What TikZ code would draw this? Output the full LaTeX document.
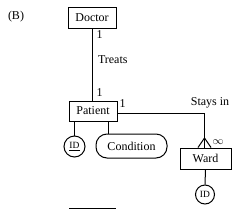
\documentclass[tikz,border=0pt]{standalone}
\usepackage{fontspec}
\setmainfont{Liberation Serif}
\usetikzlibrary{positioning}
\begin{document}
\begin{tikzpicture}[x=1pt,y=-1pt,line width=1pt,
  ent/.style={draw,rectangle,inner sep=0pt,font=\fontsize{12}{14}\selectfont},
  attr/.style={draw,circle,inner sep=0pt,font=\fontsize{9.5}{11}\selectfont},
  rattr/.style={draw,rounded corners=11pt,inner sep=0pt,font=\fontsize{12}{14}\selectfont},
  lbl/.style={inner sep=0pt,font=\fontsize{12}{14}\selectfont}]
\useasboundingbox (0,0) rectangle (251,209);
\node[lbl] (B) at (16,17) {(B)};
\node[ent,minimum width=48pt,minimum height=21pt] (doctor) at (92,17.5) {Doctor};
\node[ent,minimum width=48pt,minimum height=20pt] (patient) at (93,111) {Patient};
\node[ent,minimum width=51pt,minimum height=21pt] (ward) at (205.5,158.5) {Ward};
\node[attr,minimum size=21pt] (pid) at (74.5,146.5) {\underline{ID}};
\node[rattr,minimum width=71pt,minimum height=24pt] (cond) at (131.5,146) {Condition};
\node[attr,minimum size=19pt] (wid) at (205,194.5) {ID};
\draw (doctor.south -| 92.5,0) -- (patient.north -| 92.5,0);
\node[lbl,anchor=west] (d1) at (96,35) {1};
\node[lbl,anchor=west] (p1) at (96,93) {1};
\node[lbl,anchor=west] (treats) at (97.5,60) {Treats};
\node[lbl,anchor=west] (p2) at (119,104) {1};
\node[lbl] (stays) at (210,103) {Stays in};
\coordinate (apex) at (204.5,138);
\draw ([yshift=-2pt]patient.east) -| (apex) -- (ward.north -| 204.5,0);
\draw (apex) -- (ward.north -| 198,0);
\draw (apex) -- (ward.north -| 211,0);
\node[lbl,font=\fontsize{11}{12}\selectfont] (inf) at (218,142) {$\infty$};
\draw (ward.south) -- (wid.north);
\draw (pid.north |- patient.south) -- (pid.north);
\draw (cond.north -| 108.5,0) -- (patient.south -| 108.5,0);
\coordinate (l1) at (69,208);
\coordinate (l2) at (116,208);
\draw[line width=0.8pt] (l1) -- (l2);
\end{tikzpicture}
\end{document}
